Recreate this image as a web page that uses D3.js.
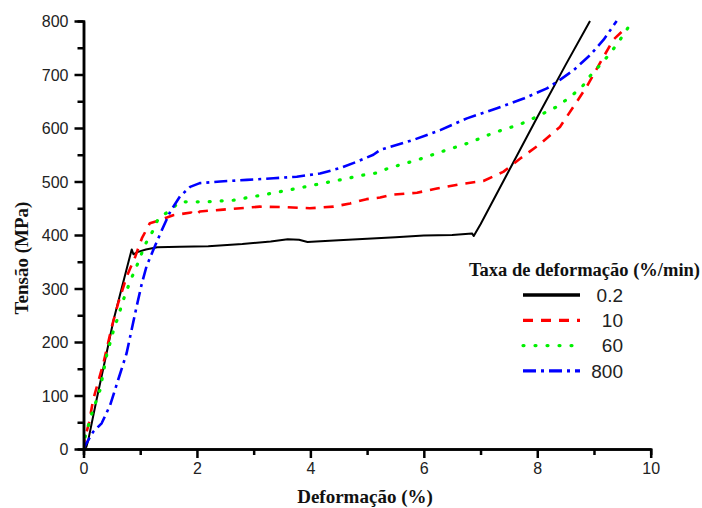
<!DOCTYPE html>
<html>
<head>
<meta charset="utf-8">
<script src="https://cdn.jsdelivr.net/npm/d3@7"></script>
<style>
  body { margin: 0; background: #fff; }
  .tick text { font-family: "Liberation Sans", Arial, sans-serif; font-size: 16px; fill: #222; }
  .axislabel { font-family: "Liberation Serif", "Times New Roman", serif; font-weight: bold; font-size: 19px; fill: #111; }
</style>
</head>
<body>
<div id="chart"></div>
<script>
// data (deformation %, stress MPa)

var rates = ["0.2", "10", "60", "800"]
var colors = ["#000000", "#ff0000", "#00f000", "#0000ff"]
var dashes = [null, "10,8", "1,11", "13,5,3,5"]
var widths = [2, 2.6, 3.2, 2.6]

var curve02 = [[0,0],[0.05,4],[0.085,17],[0.23,92],[0.38,166],[0.53,241],[0.74,328],[0.85,373],
    [0.88,364],[0.95,368],[1.1,373],[1.3,377],[1.7,378],[2.2,379],[2.8,383],[3.3,388],[3.6,392],
    [3.8,391],[3.95,387],[4.1,388],[4.5,390],[5.0,393],[5.5,396],[6.0,399],[6.5,400],[6.85,403],[6.88,398],
    [7.0,420],[7.5,520],[8.0,620],[8.5,718],[8.93,800]]

var curve10 = [[0,0],[0.02,18],[0.1,50],[0.17,92],[0.35,160],[0.5,229],[0.61,272],[0.76,322],[0.91,359],
    [1.03,394],[1.17,422],[1.35,428],
    [1.58,437],[1.9,442],[1.97,437],[2.05,444],[2.41,447],[3.11,453],[3.58,452],[3.99,450],[4.41,453],
    [4.7,459],[4.99,467],[5.23,470],[5.41,475],[5.88,479],[6.23,487],[6.64,495],[7.05,501],[7.4,518],
    [7.7,543],[8.05,570],[8.4,602],[8.64,640],[8.87,677],[9.11,722],[9.34,765],[9.58,789]]

var curve60 = [[0,0],[0.03,23],[0.14,64],[0.29,110],[0.41,176],[0.53,222],[0.61,247],[0.7,278],
    [0.82,313],[0.97,350],[1.08,381],[1.23,409],[1.32,431],[1.5,444],[1.7,462],
    [2.17,462],[2.64,465],[3.32,478],[3.76,487],[4.23,497],[4.52,503],[4.93,512],[5.17,516],[5.38,525],
    [5.88,540],[6.32,556],[6.79,572],[7.23,591],[7.7,607],[7.93,618],[8.35,640],[8.58,658],[8.79,677],
    [8.93,697],[9.11,718],[9.29,740],[9.46,765],[9.61,789]]

var curve800 = [[0,0],[0.03,7],[0.17,32],[0.32,48],[0.47,82],[0.61,129],[0.76,179],[0.94,268],
    [1.03,310],[1.11,341],[1.23,372],[1.38,409],[1.53,444],[1.7,472],[1.88,490],[2.05,497],
    [2.41,500],[2.88,503],[3.35,506],[3.76,509],[4.17,515],[4.52,525],[4.82,537],[5.11,550],[5.23,559],
    [5.82,578],[6.29,596],[6.76,618],[7.29,637],[7.76,655],[8.17,674],[8.4,690],[8.64,708],[8.93,736],
    [9.17,765],[9.4,800]]

var series = [curve02, curve10, curve60, curve800]

var xTicks = [0, 2, 4, 6, 8, 10]
var yTicks = [0, 100, 200, 300, 400, 500, 600, 700, 800]

//setup SVG

var w = 702
var h = 508

var svg = d3.select("#chart")
    .append("svg")
    .attr("width", w)
    .attr("height", h)

var x = d3.scaleLinear().domain([0, 10]).range([83.5, 650.7])
var y = d3.scaleLinear().domain([0, 800]).range([449, 21])

svg.append("defs").append("clipPath")
    .attr("id", "clip")
    .append("rect")
    .attr("x", 83).attr("y", 20)
    .attr("width", 570).attr("height", 430)

// curves

var line = d3.line()
    .x(d => x(d[0]))
    .y(d => y(d[1]))

series.forEach(function(s, i) {
    svg.append("path")
        .attr("clip-path", "url(#clip)")
        .attr("d", line(s))
        .attr("fill", "none")
        .attr("stroke", colors[i])
        .attr("stroke-width", widths[i])
        .attr("stroke-dasharray", dashes[i])
        .attr("stroke-linecap", i == 2 ? "round" : "butt")
        .attr("stroke-linejoin", "round")
})

// axes, minor ticks first

svg.append("g")
    .attr("transform", "translate(0,449)")
    .call(d3.axisBottom(x).tickValues(d3.range(1, 10, 2)).tickSize(6).tickFormat(""))
svg.append("g")
    .attr("transform", "translate(83.5,0)")
    .call(d3.axisLeft(y).tickValues(d3.range(50, 800, 100)).tickSize(6).tickFormat(""))

var xAxis = svg.append("g")
    .attr("transform", "translate(0,449)")
    .call(d3.axisBottom(x).tickValues(xTicks).tickSize(9).tickPadding(5).tickSizeOuter(0))
var yAxis = svg.append("g")
    .attr("transform", "translate(83.5,0)")
    .call(d3.axisLeft(y).tickValues(yTicks).tickSize(9).tickPadding(6).tickSizeOuter(0))

svg.selectAll(".domain").attr("stroke", "#000").attr("stroke-width", 2.5)
svg.selectAll(".tick line").attr("stroke", "#000").attr("stroke-width", 2.5)
yAxis.selectAll(".tick text").attr("dy", "0.35em")

// axis titles

svg.append("text")
    .attr("class", "axislabel")
    .attr("x", 365)
    .attr("y", 503)
    .attr("text-anchor", "middle")
    .text("Deformação (%)")

svg.append("text")
    .attr("class", "axislabel")
    .attr("transform", "translate(28,258) rotate(-90)")
    .attr("text-anchor", "middle")
    .text("Tensão (MPa)")

// legend

var legend = svg.append("g")

legend.append("text")
    .attr("class", "axislabel")
    .attr("x", 700)
    .attr("y", 276)
    .attr("text-anchor", "end")
    .style("font-size", "18.5px")
    .text("Taxa de deformação (%/min)")

rates.forEach(function(r, i) {
    var ly = 295 + i * 25.3
    legend.append("line")
        .attr("x1", 523).attr("x2", 580)
        .attr("y1", ly).attr("y2", ly)
        .attr("stroke", colors[i])
        .attr("stroke-width", i == 0 ? 3.5 : 3.2)
        .attr("stroke-dasharray", dashes[i])
        .attr("stroke-linecap", i == 2 ? "round" : "butt")
    legend.append("text")
        .attr("x", 623)
        .attr("y", ly)
        .attr("dy", "0.36em")
        .attr("text-anchor", "end")
        .style("font-family", "'Liberation Sans', Arial, sans-serif")
        .style("font-size", "19px")
        .style("fill", "#222")
        .text(r)
})
</script>
</body>
</html>
